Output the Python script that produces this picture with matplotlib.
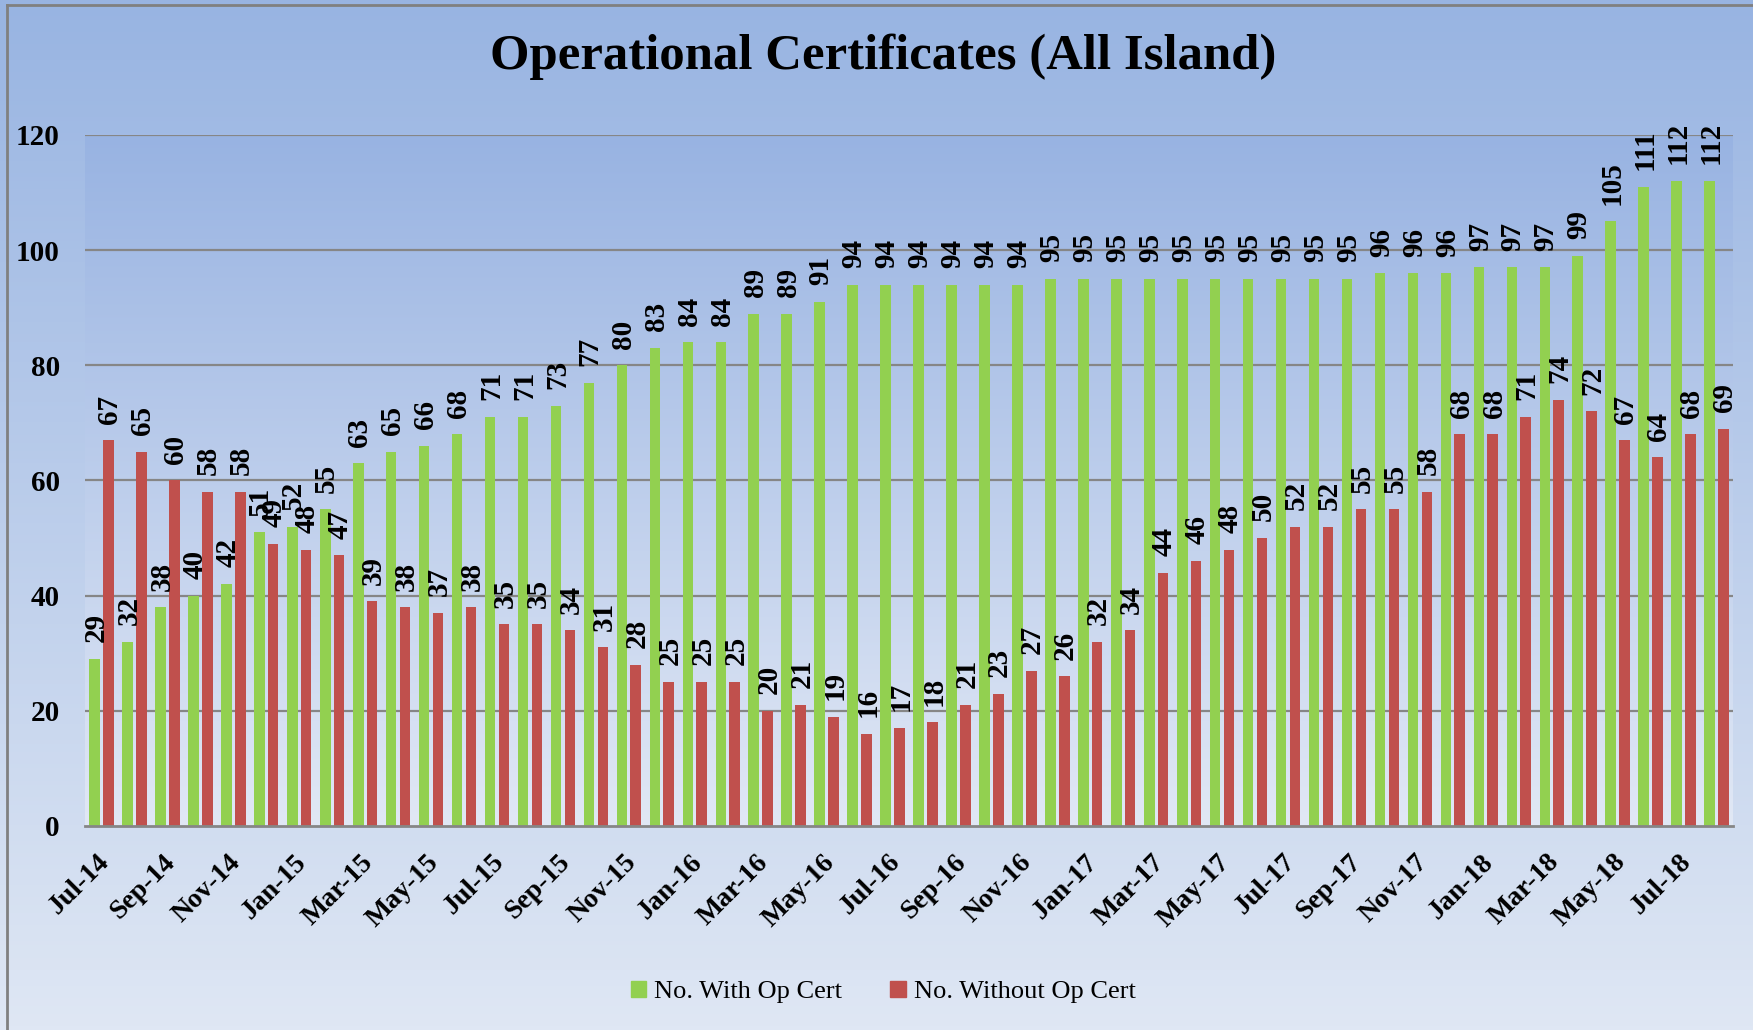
import numpy as np
import matplotlib
matplotlib.use("Agg")
import matplotlib.pyplot as plt
from matplotlib.colors import LinearSegmentedColormap
from matplotlib.lines import Line2D
from matplotlib.patches import Patch
from matplotlib.transforms import ScaledTranslation

months = ["Jul-14","Aug-14","Sep-14","Oct-14","Nov-14","Dec-14",
          "Jan-15","Feb-15","Mar-15","Apr-15","May-15","Jun-15",
          "Jul-15","Aug-15","Sep-15","Oct-15","Nov-15","Dec-15",
          "Jan-16","Feb-16","Mar-16","Apr-16","May-16","Jun-16",
          "Jul-16","Aug-16","Sep-16","Oct-16","Nov-16","Dec-16",
          "Jan-17","Feb-17","Mar-17","Apr-17","May-17","Jun-17",
          "Jul-17","Aug-17","Sep-17","Oct-17","Nov-17","Dec-17",
          "Jan-18","Feb-18","Mar-18","Apr-18","May-18","Jun-18",
          "Jul-18","Aug-18"]
with_cert = [29,32,38,40,42,51,52,55,63,65,66,68,71,71,73,77,80,83,84,84,
             89,89,91,94,94,94,94,94,94,95,95,95,95,95,95,95,95,95,95,96,
             96,96,97,97,97,99,105,111,112,112]
without_cert = [67,65,60,58,58,49,48,47,39,38,37,38,35,35,34,31,28,25,25,25,
                20,21,19,16,17,18,21,23,27,26,32,34,44,46,48,50,52,52,55,55,
                58,68,68,71,74,72,67,64,68,69]
series_names = ["No. With Op Cert", "No. Without Op Cert"]
yticks = [0, 20, 40, 60, 80, 100, 120]

GREEN = "#92D050"
RED = "#C0504D"
FONT = "Liberation Serif"

W, H = 1753, 1030
fig = plt.figure(figsize=(W/100, H/100), dpi=100)

# figure background gradient
bg = fig.add_axes([0, 0, 1, 1], zorder=-10)
cmap_fig = LinearSegmentedColormap.from_list("f", ["#98B4E2", "#DFE7F4"])
bg.imshow(np.linspace(0, 1, 256).reshape(-1, 1), aspect="auto", cmap=cmap_fig,
          extent=[0, 1, 0, 1], origin="upper")
bg.set_xlim(0, 1); bg.set_ylim(0, 1)
bg.axis("off")
bg.add_line(Line2D([7/W, 7/W], [0, 1 - 5/H], color="#808080", lw=2))
bg.add_line(Line2D([7/W, 1], [1 - 5/H, 1 - 5/H], color="#808080", lw=2))

left, right = 85/W, 1733/W
bottom, top = 1 - 826/H, 1 - 135/H
ax = fig.add_axes([left, bottom, right - left, top - bottom])
ax.set_facecolor("none")

n = len(months)
x = np.arange(n)
xmin, xmax = -0.5, n - 0.5
cmap_ax = LinearSegmentedColormap.from_list("a", ["#98B3E2", "#E1E8F5"])
ax.imshow(np.linspace(0, 1, 256).reshape(-1, 1), aspect="auto", cmap=cmap_ax,
          extent=[xmin, xmax, 0, 120], origin="upper", zorder=0)

for yv in yticks[1:]:
    ax.axhline(yv, color="#868686", lw=1.6, zorder=1)

bw = 0.32
off = 0.21
ax.bar(x - off, with_cert, bw, color=GREEN, zorder=2, label=series_names[0])
ax.bar(x + off, without_cert, bw, color=RED, zorder=2, label=series_names[1])

LBL = 21
for xi, v in zip(x, with_cert):
    ax.annotate(str(v), (xi - off, v), xytext=(1, 12), textcoords="offset points",
                rotation=90, ha="center", va="bottom", fontsize=LBL,
                fontweight="bold", family=FONT, annotation_clip=False, zorder=3)
for xi, v in zip(x, without_cert):
    ax.annotate(str(v), (xi + off, v), xytext=(1, 12), textcoords="offset points",
                rotation=90, ha="center", va="bottom", fontsize=LBL,
                fontweight="bold", family=FONT, annotation_clip=False, zorder=3)

ax.set_xlim(xmin, xmax)
ax.set_ylim(0, 120)
ax.set_yticks(yticks)
ax.set_yticklabels([str(v) for v in yticks], fontsize=21, fontweight="bold", family=FONT)
ax.tick_params(axis="y", length=0, pad=18)
ax.set_xticks(x[::2])
ax.set_xticklabels(months[::2], rotation=45, ha="right", rotation_mode="anchor",
                   fontsize=20, fontweight="bold", family=FONT)
ax.tick_params(axis="x", length=0, pad=17)
shift = ScaledTranslation(-5/100, 0, fig.dpi_scale_trans)
for lab in ax.get_xticklabels():
    lab.set_transform(lab.get_transform() + shift)
for s in ["top", "right", "left"]:
    ax.spines[s].set_visible(False)
ax.spines["bottom"].set_color("#868686")
ax.spines["bottom"].set_linewidth(2)
ax.spines["bottom"].set_zorder(4)

fig.text(883/W, 1 - 57/H, "Operational Certificates (All Island)", ha="center",
         va="center", fontsize=36.5, fontweight="bold", family=FONT)

handles = [Patch(color=GREEN), Patch(color=RED)]
fig.legend(handles, series_names, loc="center", bbox_to_anchor=(883/W, 1 - 992/H),
           ncol=2, frameon=False, prop={"family": FONT, "size": 19},
           handlelength=0.6, handleheight=0.6, handletextpad=0.3, columnspacing=1.8)

fig.savefig("out.png", dpi=100)
